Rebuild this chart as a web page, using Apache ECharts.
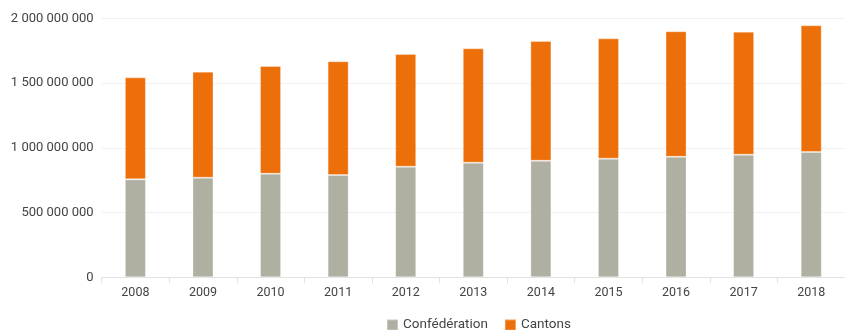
<!DOCTYPE html>
<html>
<head>
<meta charset="utf-8">
<script src="https://cdn.jsdelivr.net/npm/echarts@6/dist/echarts.min.js"></script>
<style>
  html, body { margin: 0; padding: 0; background: #fff; }
  #chart { width: 845px; height: 330px; }
</style>
</head>
<body>
<div id="chart"></div>
<script>
// Annual contributions (CHF), split between the Confederation and the cantons
const years = ['2008', '2009', '2010', '2011', '2012', '2013', '2014', '2015', '2016', '2017', '2018'];
const confederation = [757e6, 769e6, 800e6, 790e6, 854e6, 885e6, 900e6, 916e6, 931e6, 947e6, 968e6];
const cantons = [787e6, 819e6, 832e6, 878e6, 870e6, 883e6, 925e6, 929e6, 969e6, 950e6, 978e6];
const seriesNames = ['Confédération', 'Cantons'];

const fontFamily = 'Roboto, "Noto Sans", sans-serif';

// Thousands grouped with spaces: 1 500 000 000
function spaced(v) {
  return String(Math.round(v)).replace(/\B(?=(\d{3})+(?!\d))/g, ' ');
}

const chart = echarts.init(document.getElementById('chart'), null, { renderer: 'canvas' });

chart.setOption({
  animation: false,
  backgroundColor: '#ffffff',
  grid: { left: 101.6, right: -9.8, top: 18.3, bottom: 52.7 },
  legend: {
    left: 381,
    top: 313,
    itemWidth: 11,
    itemHeight: 11,
    itemGap: 16,
    icon: 'rect',
    textStyle: { fontFamily, fontSize: 13.5, color: '#444' },
    data: seriesNames
  },
  xAxis: {
    type: 'category',
    data: years,
    axisLine: { lineStyle: { color: '#e2e2e2', width: 1 } },
    axisTick: { show: true, length: 6, lineStyle: { color: '#e2e2e2' } },
    axisLabel: { fontFamily, fontSize: 12.5, color: '#444', margin: 9 }
  },
  yAxis: {
    type: 'value',
    min: 0,
    max: 2e9,
    interval: 5e8,
    axisLine: { show: false },
    axisTick: { show: false },
    splitLine: { lineStyle: { color: '#f0f0f0', width: 1 } },
    axisLabel: {
      fontFamily, fontSize: 13, color: '#444', margin: 8,
      formatter: spaced
    }
  },
  series: [
    {
      name: seriesNames[0],
      type: 'bar',
      stack: 'total',
      data: confederation,
      barWidth: 21,
      itemStyle: { color: '#afafa2', borderColor: 'rgba(255,255,255,0.3)', borderWidth: 1 }
    },
    {
      name: seriesNames[1],
      type: 'bar',
      stack: 'total',
      data: cantons,
      barWidth: 21,
      itemStyle: { color: '#ec6f0a', borderColor: 'rgba(255,255,255,0.3)', borderWidth: 1 }
    }
  ]
});
</script>
</body>
</html>
